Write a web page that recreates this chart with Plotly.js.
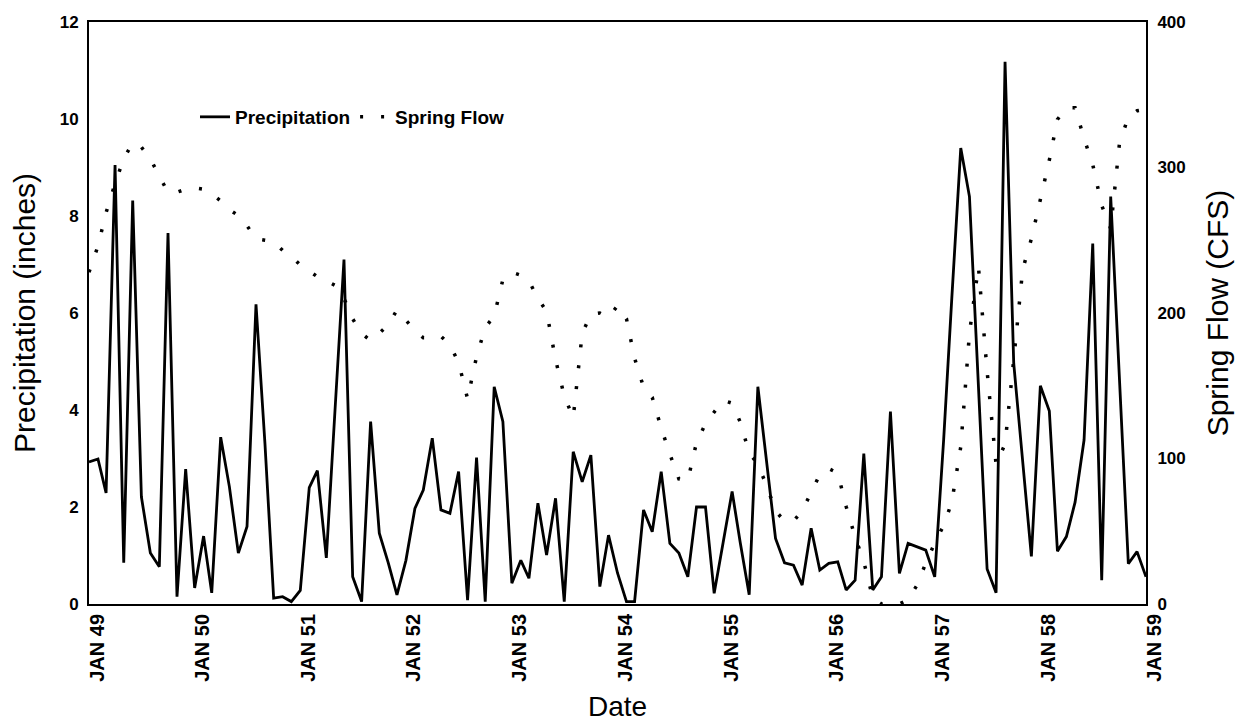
<!DOCTYPE html>
<html>
<head>
<meta charset="utf-8">
<script src="https://cdn.plot.ly/plotly-3.0.1.min.js"></script>
<style>html,body{margin:0;padding:0;background:#fff;}#chart{width:1242px;height:723px;}</style>
</head>
<body>
<div id="chart"></div>
<script>
// Monthly series, JAN 1949 .. JAN 1959 (121 months)
const startYear = 1949;
const monthCount = 121;

// Monthly precipitation (inches)
const precipitation = [
  2.93, 2.99, 2.29, 9.05, 0.85, 8.32, 2.21, 1.05, 0.77, 7.65, 0.15, 2.78,
  0.33, 1.40, 0.23, 3.44, 2.42, 1.05, 1.60, 6.18, 3.30, 0.12, 0.15, 0.05,
  0.28, 2.40, 2.75, 0.95, 4.00, 7.10, 0.56, 0.05, 3.76, 1.46, 0.85, 0.19,
  0.90, 1.97, 2.35, 3.42, 1.94, 1.87, 2.73, 0.08, 3.02, 0.05, 4.48, 3.76,
  0.43, 0.90, 0.53, 2.08, 1.01, 2.18, 0.05, 3.14, 2.52, 3.07, 0.36, 1.42,
  0.64, 0.05, 0.05, 1.94, 1.49, 2.73, 1.25, 1.05, 0.56, 2.00, 2.00, 0.22,
  1.27, 2.32, 1.27, 0.19, 4.48, 2.90, 1.35, 0.85, 0.80, 0.39, 1.56, 0.70,
  0.84, 0.87, 0.29, 0.49, 3.10, 0.29, 0.56, 3.97, 0.63, 1.25, 1.18, 1.11,
  0.56, 3.40, 6.30, 9.40, 8.40, 4.56, 0.72, 0.23, 11.18, 4.96, 3.00, 0.98,
  4.50, 3.98, 1.09, 1.39, 2.10, 3.38, 7.43, 0.49, 8.40, 4.80, 0.83, 1.08,
  0.56
];

// Monthly spring flow (CFS)
const springFlow = [
  228, 246, 269, 289, 306, 317, 314, 306, 294, 283, 283, 285,
  286, 285, 282, 277, 271, 267, 260, 251, 250, 249, 243, 239,
  233, 229, 225, 222, 219, 210, 196, 186, 181, 186, 192, 202,
  195, 188, 183, 183, 184, 178, 166, 141, 170, 190, 198, 223,
  228, 226, 222, 210, 201, 168, 143, 128, 186, 199, 200, 197,
  205, 196, 169, 149, 142, 121, 103, 86, 85, 111, 124, 132,
  140, 138, 125, 104, 96, 81, 64, 57, 57, 64, 77, 89,
  93, 90, 67, 46, 29, 4, 0, 0, 0, 3, 13, 28,
  42, 54, 70, 108, 186, 232, 160, 96, 110, 168, 230, 251,
  277, 305, 333, 341, 341, 320, 302, 274, 258, 316, 335, 339,
  340
];

const tickLabels = ['JAN 49','JAN 50','JAN 51','JAN 52','JAN 53','JAN 54',
                    'JAN 55','JAN 56','JAN 57','JAN 58','JAN 59'];

const months = [];
for (let i = 0; i < monthCount; i++) {
  const y = startYear + Math.floor(i / 12);
  const m = (i % 12) + 1;
  months.push(y + '-' + String(m).padStart(2, '0') + '-01');
}
const tickDates = tickLabels.map((t, k) => (startYear + k) + '-01-01');

const FONT = 'Liberation Sans, Arial, sans-serif';

const traces = [
  {
    x: months, y: precipitation, name: 'Precipitation', type: 'scatter', mode: 'lines',
    line: {color: '#000', width: 2.8}, yaxis: 'y'
  },
  {
    x: months, y: springFlow, name: 'Spring Flow', type: 'scatter', mode: 'lines',
    line: {color: '#000', width: 3.5, dash: '3px,18px'}, yaxis: 'y2'
  }
];

const layout = {
  width: 1242, height: 723,
  margin: {l: 89, r: 96, t: 22, b: 119},
  paper_bgcolor: '#fff', plot_bgcolor: '#fff',
  font: {family: FONT, color: '#000'},
  showlegend: true,
  legend: {
    orientation: 'h', x: 0.1003, xanchor: 'left', y: 0.8368, yanchor: 'middle',
    font: {family: FONT, size: 19, weight: 'bold', color: '#000'},
    bgcolor: 'rgba(0,0,0,0)', itemwidth: 30, tracegroupgap: 0
  },
  xaxis: {
    type: 'date', range: [tickDates[0], tickDates[tickDates.length - 1]],
    tickvals: tickDates, ticktext: tickLabels, tickangle: -90,
    tickfont: {family: FONT, size: 20, weight: 'bold'},
    showgrid: false, zeroline: false, showline: true, linewidth: 2, linecolor: '#000',
    mirror: true, ticks: '', ticklabelstandoff: 0, ticklabelshift: 8,
    title: {text: 'Date', font: {family: FONT, size: 28}, standoff: 16}
  },
  yaxis: {
    range: [0, 12], dtick: 2, tick0: 0,
    tickfont: {family: FONT, size: 17, weight: 'bold'},
    showgrid: false, zeroline: false, showline: true, linewidth: 2, linecolor: '#000',
    ticks: '', ticklabelstandoff: 5,
    title: {text: 'Precipitation (inches)', font: {family: FONT, size: 30}, standoff: 15}
  },
  yaxis2: {
    range: [0, 400], dtick: 100, tick0: 0, overlaying: 'y', side: 'right',
    tickfont: {family: FONT, size: 17, weight: 'bold'},
    showgrid: false, zeroline: false, showline: true, linewidth: 2, linecolor: '#000',
    ticks: '', ticklabelstandoff: 6,
    title: {text: 'Spring Flow (CFS)', font: {family: FONT, size: 30}, standoff: 22}
  }
};

Plotly.newPlot('chart', traces, layout, {displayModeBar: false, staticPlot: true});
</script>
</body>
</html>
